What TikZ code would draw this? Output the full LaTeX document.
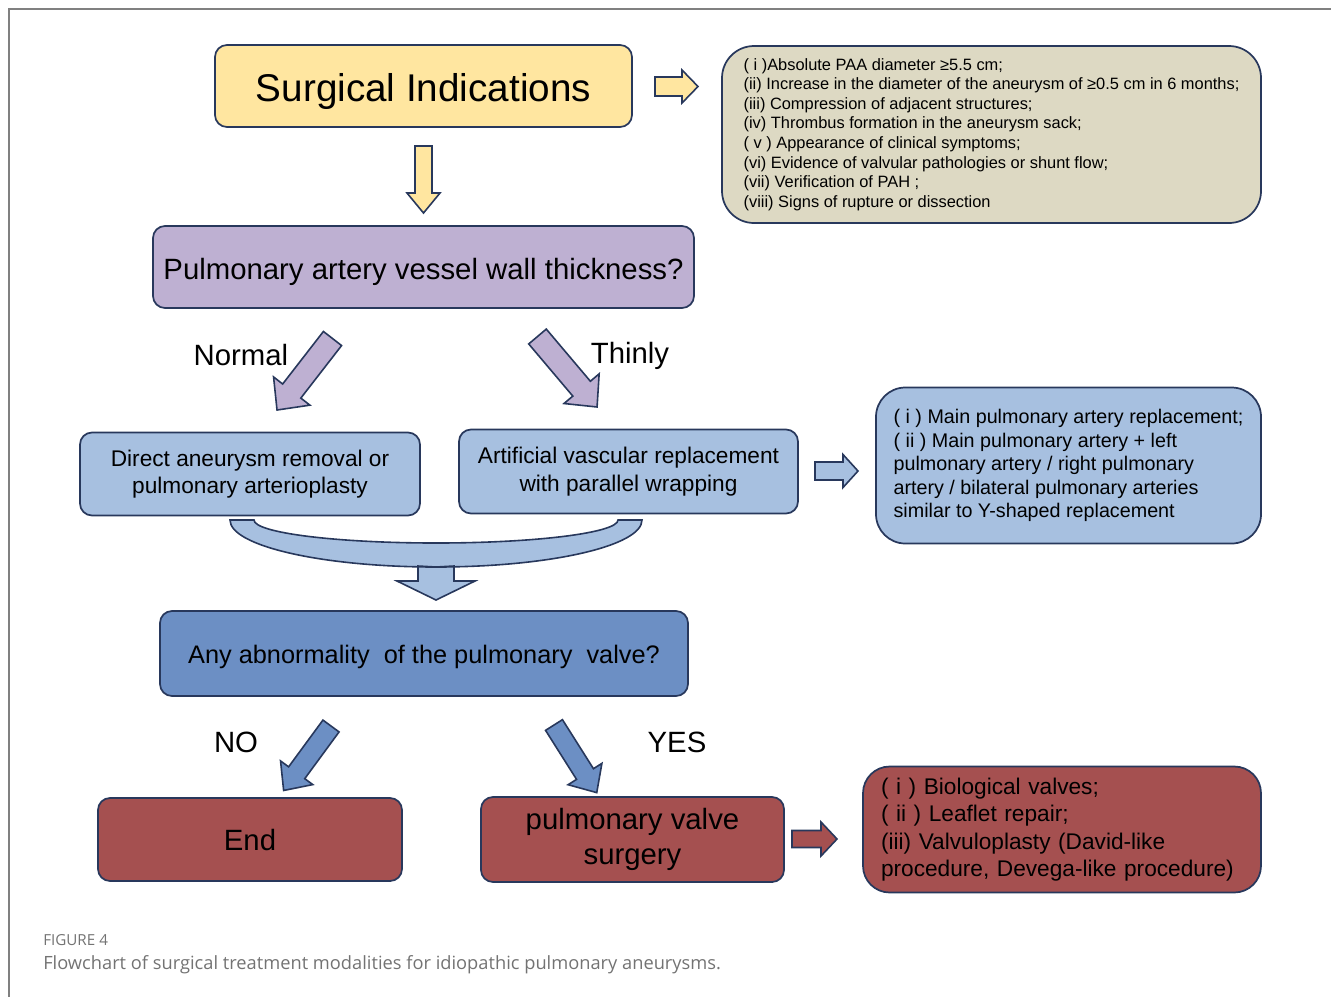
\documentclass[tikz,border=0pt]{standalone}
\usepackage{fontspec}
\setmainfont{Liberation Sans}
\newfontfamily\capfont{Open Sans}
\usetikzlibrary{calc}

% Colors
\definecolor{edge}{RGB}{40,56,92}
\definecolor{cyellow}{RGB}{255,230,160}
\definecolor{ctan}{RGB}{221,217,195}
\definecolor{clilac}{RGB}{190,176,210}
\definecolor{clight}{RGB}{167,192,224}
\definecolor{cmid}{RGB}{108,143,196}
\definecolor{cred}{RGB}{165,80,80}
\definecolor{capgray}{RGB}{115,115,115}

% block arrow: fill, start, angle, length, shaft half, head half, head length
\newcommand\blockarrow[7]{%
  \begin{scope}[shift={#2}, rotate=#3]
    \filldraw[fill=#1, draw=edge, line width=1.2pt, line join=miter]
      (0,-#5) -- (#4-#7,-#5) -- (#4-#7,-#6) -- (#4,0) -- (#4-#7,#6) -- (#4-#7,#5) -- (0,#5) -- cycle;
  \end{scope}}

\begin{document}
\begin{tikzpicture}[x=0.75pt, y=-0.75pt,
  box/.style={draw=edge, line width=1.3pt, rounded corners=9pt, align=center, inner sep=0pt},
  oneline/.style={text height=#1, text depth=0pt},
  bigfont/.style={font=\fontsize{22}{26}\selectfont},
  midfont/.style={font=\fontsize{17}{20.5}\selectfont},
  lbl/.style={font=\fontsize{22}{26}\selectfont}]

\useasboundingbox (0,0) rectangle (1331,997);

% frame
\draw[gray, line width=0.8pt] (1331,9) -- (9,9) -- (9,997);

% Surgical indications
\node[box, fill=cyellow, minimum width=312.75pt, minimum height=61.5pt, oneline=23pt,
  font=\fontsize{29}{34}\selectfont] (surg) at (423.5,86) {Surgical Indications};
\node[box, fill=ctan, rounded corners=24pt, minimum width=404.25pt, minimum height=132.75pt,
  align=left, font=\fontsize{12.3}{14.7}\selectfont] (crit) at (991.5,134.5)
  {( i )Absolute PAA diameter ≥5.5 cm;\\
   (ii) Increase in the diameter of the aneurysm of ≥0.5 cm in 6 months;\\
   (iii) Compression of adjacent structures;\\
   (iv) Thrombus formation in the aneurysm sack;\\
   ( v ) Appearance of clinical symptoms;\\
   (vi) Evidence of valvular pathologies or shunt flow;\\
   (vii) Verification of PAH ;\\
   (viii) Signs of rupture or dissection};
\blockarrow{cyellow}{(655,86.5)}{0}{43}{9.5}{16.5}{16}
\blockarrow{cyellow}{(423.5,146)}{-90}{67}{8.5}{16.5}{20}

% Wall thickness
\node[box, fill=clilac, minimum width=405.75pt, minimum height=61.5pt, oneline=18pt, bigfont]
  (wall) at (423.5,267) {Pulmonary artery vessel wall thickness?};
\blockarrow{clilac}{(332.5,338.5)}{232.2}{90.5}{11.5}{23}{24}
\blockarrow{clilac}{(537.5,336.5)}{-49.8}{92.3}{11.5}{23}{24}
\node[lbl] (normal) at (241,355) {Normal};
\node[lbl] (thinly) at (630,356) {Thinly};

% Procedures
\node[box, fill=clight, minimum width=255pt, minimum height=62.25pt, midfont]
  (direct) at (250,474) {Direct aneurysm removal or\\pulmonary arterioplasty};
\node[box, fill=clight, minimum width=254.25pt, minimum height=63pt, midfont]
  (artif) at (628.5,471.5) {Artificial vascular replacement\\with parallel wrapping};
\blockarrow{clight}{(815,471)}{0}{43}{9}{16.5}{15}
\node[box, fill=clight, rounded corners=22pt, minimum width=288.75pt, minimum height=117pt,
  align=left, font=\fontsize{14.8}{17.6}\selectfont] (repl) at (1068.5,465.5)
  {( i ) Main pulmonary artery replacement;\\
   ( ii ) Main pulmonary artery + left\\
   pulmonary artery / right pulmonary\\
   artery / bilateral pulmonary arteries\\
   similar to Y-shaped replacement};

% Merging arrow
\filldraw[fill=clight, draw=edge, line width=1.2pt, line join=miter]
  (230,520) arc[start angle=180, end angle=270, x radius=206, y radius=-47]
  -- (436,567) -- (454,566) -- (454,581) -- (475,581) -- (436,600) -- (397,581)
  -- (418,581) -- (418,566) -- (436,567)
  arc[start angle=270, end angle=360, x radius=206, y radius=-47]
  -- (618,520)
  arc[start angle=0, end angle=-180, x radius=182, y radius=-23]
  -- cycle;

% Valve question
\node[box, fill=cmid, minimum width=396pt, minimum height=63.75pt, oneline=15.5pt,
  font=\fontsize{19}{23}\selectfont] (valve) at (424,653.5)
  {Any abnormality~ of the pulmonary~ valve?};
\blockarrow{cmid}{(331,726)}{233.7}{80}{10}{20}{22}
\blockarrow{cmid}{(554,725)}{-57.7}{80}{10}{20}{22}
\node[lbl] (no) at (236,742) {NO};
\node[lbl] (yes) at (677,742) {YES};

% Outcomes
\node[box, fill=cred, minimum width=228pt, minimum height=62.25pt, oneline=17pt, bigfont]
  (endn) at (250,839.5) {End};
\node[box, fill=cred, minimum width=227.25pt, minimum height=63.75pt, bigfont]
  (surgery) at (632.5,839.5) {pulmonary valve\\surgery};
\blockarrow{cred}{(792,839)}{0}{45}{8.5}{17}{16}
\node[box, fill=cred, rounded corners=20pt, minimum width=298.5pt, minimum height=94.5pt,
  text width=271.5pt, align=left, font=\fontsize{17}{20.5}\selectfont] (opts) at (1062,829.5)
  {( i ) Biological valves;\\
   ( ii ) Leaflet repair;\\
   (iii) Valvuloplasty (David-like\\
   procedure, Devega-like procedure)};

% Caption
\node[anchor=base west, inner sep=0pt, text=capgray, font=\capfont\fontsize{11.4}{13}\selectfont]
  (fig) at (43,945) {FIGURE 4};
\node[anchor=base west, inner sep=0pt, text=capgray, font=\capfont\fontsize{13.7}{16}\selectfont]
  (cap) at (43,969) {Flowchart of surgical treatment modalities for idiopathic pulmonary aneurysms.};

\end{tikzpicture}
\end{document}
